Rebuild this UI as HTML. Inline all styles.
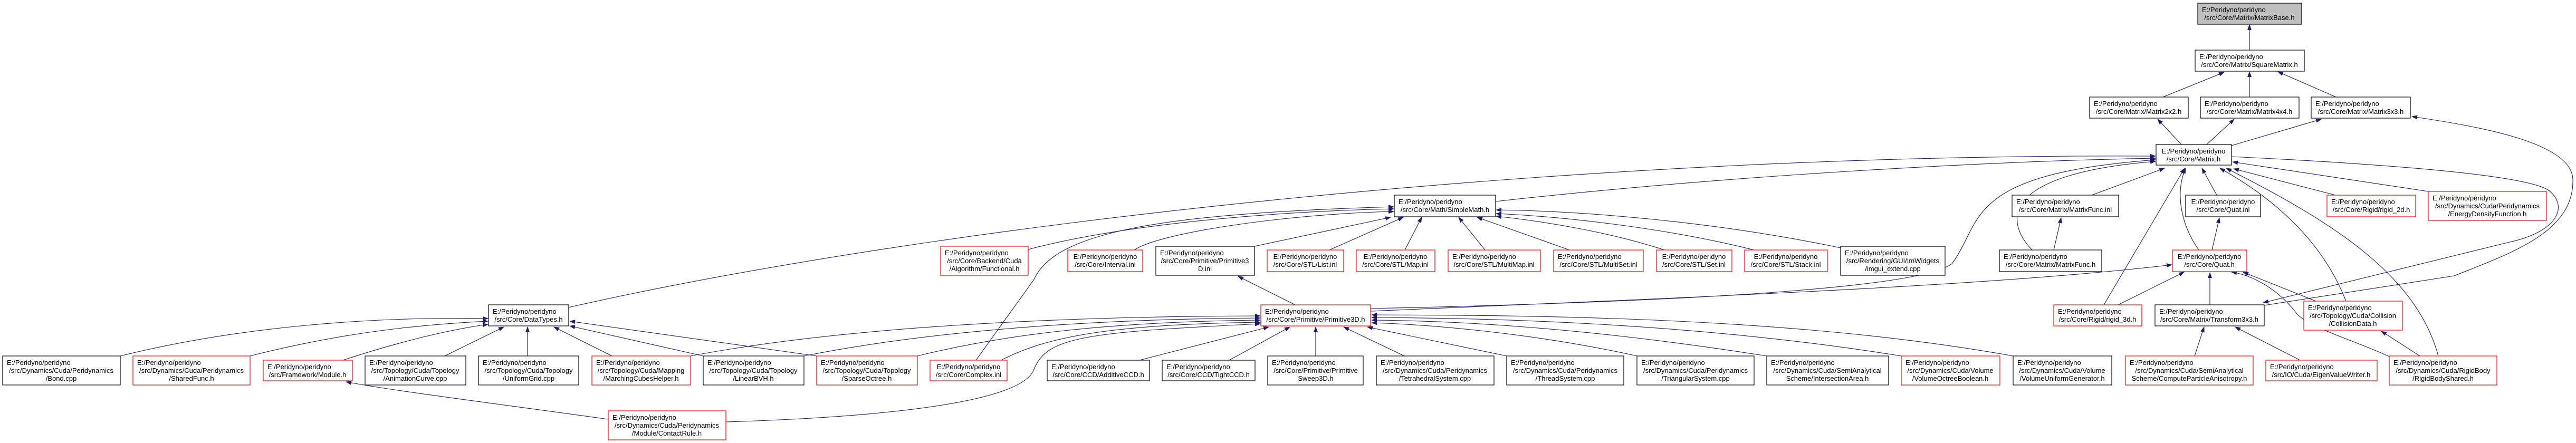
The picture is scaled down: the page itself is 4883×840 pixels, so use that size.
<!DOCTYPE html>
<html><head><meta charset="utf-8"><style>
html,body{margin:0;padding:0;background:#fff;width:4883px;height:840px;overflow:hidden}
svg{display:block}
text{font-family:"Liberation Sans",Arial,sans-serif;font-size:13px;fill:#000}
.b{fill:#fff;stroke:#000;stroke-width:1.2}
.r{fill:#fff;stroke:#f00;stroke-width:1.2}
.e{fill:none;stroke:#191970;stroke-width:1.1}
.m{text-anchor:middle}
</style></head><body>
<svg width="4883" height="840" viewBox="0 0 4883 840" xmlns="http://www.w3.org/2000/svg">
<defs><marker id="a" markerUnits="userSpaceOnUse" markerWidth="11" markerHeight="8" refX="10" refY="4" orient="auto"><path d="M0,0 L11,4 L0,8 z" fill="#191970"/></marker></defs>
<g class="e" marker-end="url(#a)">
<path d="M4264,95 L4264,47"/>
<path d="M4100,184 L4216,137"/>
<path d="M4264,184 L4264,136"/>
<path d="M4428,184 L4318,136"/>
<path d="M4135,274 L4090,226"/>
<path d="M4183,274 L4235,226"/>
<path d="M4230,276 L4400,226"/>
<path d="M4292,579 L4652,523 C4760,480 4880,440 4877,340 C4875,270 4700,240 4572,221"/>
<path d="M4230,297 C4500,310 4780,330 4830,360 C4870,390 4850,440 4753,460 L4290,574"/>
<path d="M3965,370 L4103,319"/>
<path d="M3988,578 L4141,319"/>
<path d="M4168,474 C4130,420 4125,360 4143,319"/>
<path d="M4202,370 L4174,319"/>
<path d="M4447,571 C4400,450 4300,370 4208,319"/>
<path d="M4622,675 C4580,520 4420,420 4220,319"/>
<path d="M4427,370 L4234,320"/>
<path d="M4603,363 L4232,307"/>
<path d="M1077,583 C1800,420 3000,290 4086,296"/>
<path d="M2835,382 C3300,330 3800,305 4086,300"/>
<path d="M2598,585 C3300,570 3650,540 3700,500 C3760,420 3720,330 4086,303"/>
<path d="M3852,474 C3800,420 3790,330 4086,306"/>
<path d="M1949,473 C2150,420 2450,400 2642,396"/>
<path d="M2150,474 C2200,440 2450,405 2642,401"/>
<path d="M2378,467 L2636,412"/>
<path d="M1850,683 L1960,530 C2000,440 2200,405 2642,392"/>
<path d="M2520,474 L2660,412"/>
<path d="M2663,474 L2695,412"/>
<path d="M2815,474 L2765,412"/>
<path d="M2975,474 L2800,412"/>
<path d="M3155,474 C3050,440 2930,420 2836,410"/>
<path d="M3325,474 C3150,430 2950,410 2836,405"/>
<path d="M3489,470 C3250,420 3000,400 2836,398"/>
<path d="M2455,578 L2347,524"/>
<path d="M2598,590 C3300,560 3800,540 4117,502"/>
<path d="M2160,683 L2405,620"/>
<path d="M2330,683 L2445,620"/>
<path d="M2494,675 L2494,620"/>
<path d="M2662,675 L2547,620"/>
<path d="M2856,675 L2592,620"/>
<path d="M3103,675 C2900,630 2700,615 2600,612"/>
<path d="M3349,675 C3000,620 2750,608 2600,607"/>
<path d="M3604,675 C3200,610 2800,603 2600,602"/>
<path d="M3816,675 C3400,600 2900,598 2600,597"/>
<path d="M1309,675 C1600,620 2000,600 2389,599"/>
<path d="M1524,675 C1750,630 2050,605 2389,603"/>
<path d="M1739,675 C1900,635 2100,610 2389,607"/>
<path d="M1898,683 C1980,640 2100,615 2389,611"/>
<path d="M1376,800 C1700,790 1940,760 1960,700 C1985,640 2050,630 2389,614"/>
<path d="M228,675 C450,620 700,600 925,604"/>
<path d="M474,675 C650,630 800,615 925,609"/>
<path d="M650,683 C750,650 850,625 925,615"/>
<path d="M843,675 L955,620"/>
<path d="M1000,675 L1000,620"/>
<path d="M1160,675 L1050,620"/>
<path d="M1333,675 L1080,618"/>
<path d="M1548,675 L1080,609"/>
<path d="M1153,795 C900,760 740,740 656,724"/>
<path d="M4193,474 L4207,413"/>
<path d="M4015,578 L4140,516"/>
<path d="M4189,578 L4189,517"/>
<path d="M4529,676 C4450,640 4370,620 4350,590 C4310,540 4260,520 4230,516"/>
<path d="M4390,571 L4252,516"/>
<path d="M4160,675 L4178,620"/>
<path d="M4360,683 L4237,620"/>
<path d="M4587,675 L4514,628"/>
<path d="M3893,474 L3907,413"/>
</g>

<rect x="4166" y="6" width="197" height="40" fill="#bfbfbf" stroke="#000" stroke-width="1.2"/>
<text x="4174" y="23">E:/Peridyno/peridyno</text><text class="m" x="4264" y="38">/src/Core/Matrix/MatrixBase.h</text>
<rect class="b" x="4161" y="95" width="207" height="40"/>
<text x="4169" y="112">E:/Peridyno/peridyno</text><text class="m" x="4264" y="127">/src/Core/Matrix/SquareMatrix.h</text>
<rect class="b" x="3961" y="184" width="187" height="40"/>
<text x="3969" y="201">E:/Peridyno/peridyno</text><text class="m" x="4054" y="216">/src/Core/Matrix/Matrix2x2.h</text>
<rect class="b" x="4171" y="184" width="187" height="40"/>
<text x="4179" y="201">E:/Peridyno/peridyno</text><text class="m" x="4264" y="216">/src/Core/Matrix/Matrix4x4.h</text>
<rect class="b" x="4381" y="184" width="188" height="40"/>
<text x="4389" y="201">E:/Peridyno/peridyno</text><text class="m" x="4475" y="216">/src/Core/Matrix/Matrix3x3.h</text>
<rect class="b" x="4087" y="274" width="143" height="39"/>
<text class="m" x="4158" y="291">E:/Peridyno/peridyno</text><text class="m" x="4158" y="306">/src/Core/Matrix.h</text>

<rect class="b" x="2643" y="370" width="192" height="41"/>
<text x="2651" y="387">E:/Peridyno/peridyno</text><text class="m" x="2739" y="402">/src/Core/Math/SimpleMath.h</text>
<rect class="b" x="3814" y="370" width="202" height="41"/>
<text x="3822" y="387">E:/Peridyno/peridyno</text><text class="m" x="3915" y="402">/src/Core/Matrix/MatrixFunc.inl</text>
<rect class="b" x="4143" y="370" width="142" height="41"/>
<text class="m" x="4214" y="387">E:/Peridyno/peridyno</text><text class="m" x="4214" y="402">/src/Core/Quat.inl</text>
<rect class="r" x="4411" y="370" width="168" height="41"/>
<text x="4419" y="387">E:/Peridyno/peridyno</text><text class="m" x="4495" y="402">/src/Core/Rigid/rigid_2d.h</text>
<rect class="r" x="4603" y="363" width="224" height="55"/>
<text x="4611" y="380">E:/Peridyno/peridyno</text><text class="m" x="4715" y="395">/src/Dynamics/Cuda/Peridynamics</text><text class="m" x="4715" y="410">/EnergyDensityFunction.h</text>

<rect class="r" x="1783" y="467" width="166" height="55"/>
<text x="1791" y="484">E:/Peridyno/peridyno</text><text class="m" x="1866" y="499">/src/Core/Backend/Cuda</text><text class="m" x="1866" y="514">/Algorithm/Functional.h</text>
<rect class="r" x="2024" y="474" width="142" height="41"/>
<text class="m" x="2095" y="491">E:/Peridyno/peridyno</text><text class="m" x="2095" y="506">/src/Core/Interval.inl</text>
<rect class="b" x="2191" y="467" width="187" height="55"/>
<text x="2199" y="484">E:/Peridyno/peridyno</text><text class="m" x="2284" y="499">/src/Core/Primitive/Primitive3</text><text class="m" x="2284" y="514">D.inl</text>
<rect class="r" x="2402" y="474" width="145" height="41"/>
<text class="m" x="2474" y="491">E:/Peridyno/peridyno</text><text class="m" x="2474" y="506">/src/Core/STL/List.inl</text>
<rect class="r" x="2571" y="474" width="149" height="41"/>
<text class="m" x="2645" y="491">E:/Peridyno/peridyno</text><text class="m" x="2645" y="506">/src/Core/STL/Map.inl</text>
<rect class="r" x="2745" y="474" width="175" height="41"/>
<text x="2753" y="491">E:/Peridyno/peridyno</text><text class="m" x="2832" y="506">/src/Core/STL/MultiMap.inl</text>
<rect class="r" x="2945" y="474" width="170" height="41"/>
<text x="2953" y="491">E:/Peridyno/peridyno</text><text class="m" x="3030" y="506">/src/Core/STL/MultiSet.inl</text>
<rect class="r" x="3140" y="474" width="143" height="41"/>
<text class="m" x="3211" y="491">E:/Peridyno/peridyno</text><text class="m" x="3211" y="506">/src/Core/STL/Set.inl</text>
<rect class="r" x="3307" y="474" width="157" height="41"/>
<text class="m" x="3385" y="491">E:/Peridyno/peridyno</text><text class="m" x="3385" y="506">/src/Core/STL/Stack.inl</text>
<rect class="b" x="3489" y="467" width="198" height="55"/>
<text x="3497" y="484">E:/Peridyno/peridyno</text><text class="m" x="3588" y="499">/src/Rendering/GUI/ImWidgets</text><text class="m" x="3588" y="514">/imgui_extend.cpp</text>
<rect class="b" x="3790" y="474" width="194" height="41"/>
<text x="3798" y="491">E:/Peridyno/peridyno</text><text class="m" x="3887" y="506">/src/Core/Matrix/MatrixFunc.h</text>
<rect class="r" x="4118" y="474" width="141" height="41"/>
<text class="m" x="4188" y="491">E:/Peridyno/peridyno</text><text class="m" x="4188" y="506">/src/Core/Quat.h</text>

<rect class="b" x="926" y="578" width="152" height="40"/>
<text x="934" y="595">E:/Peridyno/peridyno</text><text class="m" x="1002" y="610">/src/Core/DataTypes.h</text>
<rect class="r" x="2390" y="578" width="208" height="40"/>
<text x="2398" y="595">E:/Peridyno/peridyno</text><text class="m" x="2494" y="610">/src/Core/Primitive/Primitive3D.h</text>
<rect class="r" x="3893" y="578" width="167" height="40"/>
<text x="3901" y="595">E:/Peridyno/peridyno</text><text class="m" x="3976" y="610">/src/Core/Rigid/rigid_3d.h</text>
<rect class="b" x="4085" y="578" width="207" height="40"/>
<text x="4093" y="595">E:/Peridyno/peridyno</text><text class="m" x="4188" y="610">/src/Core/Matrix/Transform3x3.h</text>
<rect class="r" x="4367" y="571" width="187" height="55"/>
<text x="4375" y="588">E:/Peridyno/peridyno</text><text class="m" x="4460" y="603">/src/Topology/Cuda/Collision</text><text class="m" x="4460" y="618">/CollisionData.h</text>

<rect class="b" x="5" y="675" width="223" height="55"/>
<text x="13" y="692">E:/Peridyno/peridyno</text><text class="m" x="116" y="707">/src/Dynamics/Cuda/Peridynamics</text><text class="m" x="116" y="722">/Bond.cpp</text>
<rect class="r" x="252" y="675" width="222" height="55"/>
<text x="260" y="692">E:/Peridyno/peridyno</text><text class="m" x="363" y="707">/src/Dynamics/Cuda/Peridynamics</text><text class="m" x="363" y="722">/SharedFunc.h</text>
<rect class="r" x="499" y="683" width="169" height="39"/>
<text x="507" y="700">E:/Peridyno/peridyno</text><text class="m" x="583" y="715">/src/Framework/Module.h</text>
<rect class="b" x="692" y="675" width="191" height="55"/>
<text x="700" y="692">E:/Peridyno/peridyno</text><text class="m" x="787" y="707">/src/Topology/Cuda/Topology</text><text class="m" x="787" y="722">/AnimationCurve.cpp</text>
<rect class="b" x="907" y="675" width="190" height="55"/>
<text x="915" y="692">E:/Peridyno/peridyno</text><text class="m" x="1002" y="707">/src/Topology/Cuda/Topology</text><text class="m" x="1002" y="722">/UniformGrid.cpp</text>
<rect class="r" x="1122" y="675" width="187" height="55"/>
<text x="1130" y="692">E:/Peridyno/peridyno</text><text class="m" x="1215" y="707">/src/Topology/Cuda/Mapping</text><text class="m" x="1215" y="722">/MarchingCubesHelper.h</text>
<rect class="b" x="1333" y="675" width="191" height="55"/>
<text x="1341" y="692">E:/Peridyno/peridyno</text><text class="m" x="1428" y="707">/src/Topology/Cuda/Topology</text><text class="m" x="1428" y="722">/LinearBVH.h</text>
<rect class="r" x="1548" y="675" width="191" height="55"/>
<text x="1556" y="692">E:/Peridyno/peridyno</text><text class="m" x="1643" y="707">/src/Topology/Cuda/Topology</text><text class="m" x="1643" y="722">/SparseOctree.h</text>
<rect class="r" x="1763" y="683" width="146" height="39"/>
<text class="m" x="1836" y="700">E:/Peridyno/peridyno</text><text class="m" x="1836" y="715">/src/Core/Complex.inl</text>
<rect class="b" x="1985" y="683" width="194" height="39"/>
<text x="1993" y="700">E:/Peridyno/peridyno</text><text class="m" x="2082" y="715">/src/Core/CCD/AdditiveCCD.h</text>
<rect class="b" x="2203" y="683" width="176" height="39"/>
<text x="2211" y="700">E:/Peridyno/peridyno</text><text class="m" x="2291" y="715">/src/Core/CCD/TightCCD.h</text>
<rect class="b" x="2403" y="675" width="181" height="55"/>
<text x="2411" y="692">E:/Peridyno/peridyno</text><text class="m" x="2494" y="707">/src/Core/Primitive/Primitive</text><text class="m" x="2494" y="722">Sweep3D.h</text>
<rect class="b" x="2609" y="675" width="223" height="55"/>
<text x="2617" y="692">E:/Peridyno/peridyno</text><text class="m" x="2720" y="707">/src/Dynamics/Cuda/Peridynamics</text><text class="m" x="2720" y="722">/TetrahedralSystem.cpp</text>
<rect class="b" x="2856" y="675" width="222" height="55"/>
<text x="2864" y="692">E:/Peridyno/peridyno</text><text class="m" x="2967" y="707">/src/Dynamics/Cuda/Peridynamics</text><text class="m" x="2967" y="722">/ThreadSystem.cpp</text>
<rect class="b" x="3103" y="675" width="222" height="55"/>
<text x="3111" y="692">E:/Peridyno/peridyno</text><text class="m" x="3214" y="707">/src/Dynamics/Cuda/Peridynamics</text><text class="m" x="3214" y="722">/TriangularSystem.cpp</text>
<rect class="b" x="3349" y="675" width="231" height="55"/>
<text x="3357" y="692">E:/Peridyno/peridyno</text><text class="m" x="3464" y="707">/src/Dynamics/Cuda/SemiAnalytical</text><text class="m" x="3464" y="722">Scheme/IntersectionArea.h</text>
<rect class="r" x="3604" y="675" width="187" height="55"/>
<text x="3612" y="692">E:/Peridyno/peridyno</text><text class="m" x="3697" y="707">/src/Dynamics/Cuda/Volume</text><text class="m" x="3697" y="722">/VolumeOctreeBoolean.h</text>
<rect class="b" x="3816" y="675" width="187" height="55"/>
<text x="3824" y="692">E:/Peridyno/peridyno</text><text class="m" x="3909" y="707">/src/Dynamics/Cuda/Volume</text><text class="m" x="3909" y="722">/VolumeUniformGenerator.h</text>
<rect class="r" x="4029" y="675" width="242" height="55"/>
<text x="4037" y="692">E:/Peridyno/peridyno</text><text class="m" x="4150" y="707">/src/Dynamics/Cuda/SemiAnalytical</text><text class="m" x="4150" y="722">Scheme/ComputeParticleAnisotropy.h</text>
<rect class="r" x="4295" y="683" width="211" height="39"/>
<text x="4303" y="700">E:/Peridyno/peridyno</text><text class="m" x="4400" y="715">/src/IO/Cuda/EigenValueWriter.h</text>
<rect class="r" x="4529" y="675" width="204" height="55"/>
<text x="4537" y="692">E:/Peridyno/peridyno</text><text class="m" x="4631" y="707">/src/Dynamics/Cuda/RigidBody</text><text class="m" x="4631" y="722">/RigidBodyShared.h</text>

<rect class="r" x="1153" y="779" width="223" height="55"/>
<text x="1161" y="796">E:/Peridyno/peridyno</text><text class="m" x="1264" y="811">/src/Dynamics/Cuda/Peridynamics</text><text class="m" x="1264" y="826">/Module/ContactRule.h</text>
</svg>
</body></html>
